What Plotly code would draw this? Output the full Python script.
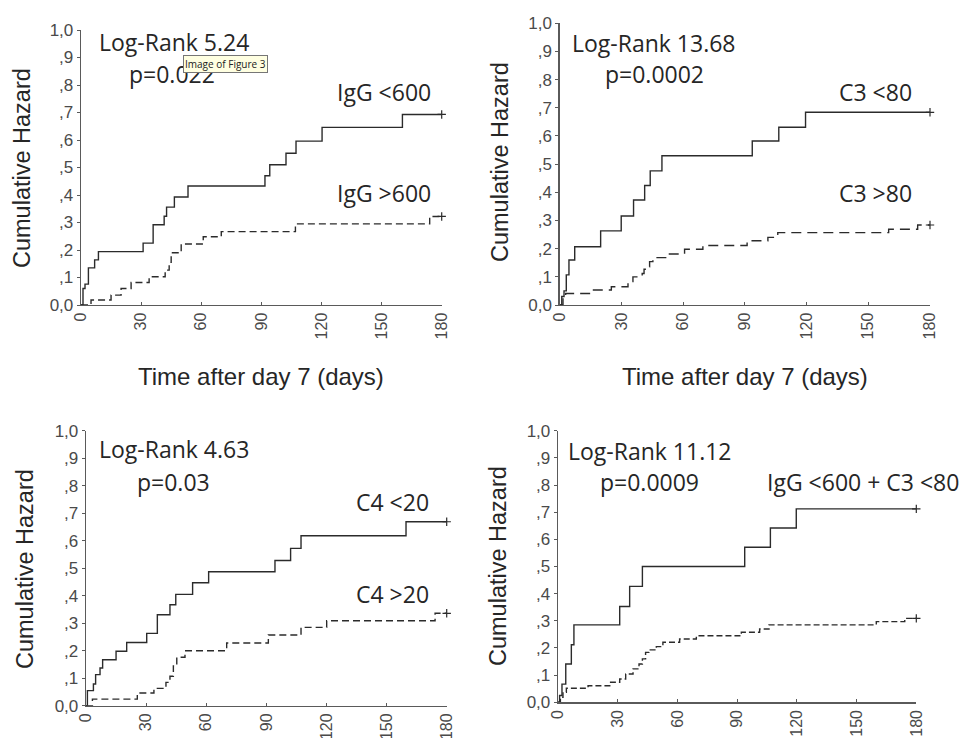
import plotly.graph_objects as go

# ---------------- data ----------------
follow_up_end = 180

x_ticks = [0, 30, 60, 90, 120, 150, 180]
y_ticks = [0, 0.1, 0.2, 0.3, 0.4, 0.5, 0.6, 0.7, 0.8, 0.9, 1.0]
y_tick_labels = ["0,0", ",1", ",2", ",3", ",4", ",5", ",6", ",7", ",8", ",9", "1,0"]

# Panel 1: IgG
p1_low_t = [0, 1, 2, 3.7, 6.8, 8.7, 31, 36, 41.5, 42.7, 46.6, 53.4, 91.8, 94.2, 102.3, 107.3, 120.3, 160.4]
p1_low_h = [0, 0.06, 0.076, 0.135, 0.164, 0.194, 0.225, 0.292, 0.323, 0.356, 0.393, 0.433, 0.47, 0.51, 0.552, 0.596, 0.646, 0.693]
p1_high_t = [0, 5, 15, 20, 25, 34, 42, 44, 45, 50, 61, 70, 107, 174]
p1_high_h = [0, 0.018, 0.036, 0.06, 0.082, 0.103, 0.127, 0.155, 0.19, 0.222, 0.248, 0.267, 0.295, 0.322]

# Panel 2: C3
p2_low_t = [0, 1, 2.1, 3.2, 4.5, 7.3, 19.9, 29.9, 35.9, 41.3, 44, 49.7, 93.6, 106.5, 119.5]
p2_low_h = [0, 0.03, 0.05, 0.107, 0.16, 0.207, 0.263, 0.316, 0.373, 0.424, 0.476, 0.53, 0.582, 0.631, 0.684]
p2_high_t = [0, 1.6, 2.9, 14.9, 25.1, 33.2, 35.6, 40.1, 41, 42.1, 43.7, 45.3, 52.3, 60.7, 69.6, 91.1, 101.2, 106, 159.9, 174]
p2_high_h = [0, 0.03, 0.041, 0.053, 0.065, 0.083, 0.1, 0.112, 0.127, 0.136, 0.154, 0.168, 0.181, 0.198, 0.211, 0.228, 0.24, 0.257, 0.269, 0.284]

# Panel 3: C4
p3_low_t = [0, 0.7, 3.7, 4.8, 7, 8.3, 15, 20.3, 30.3, 35.6, 41.9, 44.8, 53.2, 61.2, 94.3, 102.1, 107.3, 159.7]
p3_low_h = [0, 0.055, 0.079, 0.113, 0.137, 0.167, 0.198, 0.23, 0.263, 0.331, 0.367, 0.405, 0.447, 0.487, 0.528, 0.572, 0.618, 0.669]
p3_high_t = [0, 3.2, 25.6, 33.9, 39.9, 41.9, 43.6, 45.3, 49.4, 70.2, 91, 107.3, 120.1, 174.2]
p3_high_h = [0, 0.024, 0.046, 0.063, 0.085, 0.107, 0.145, 0.176, 0.2, 0.228, 0.257, 0.285, 0.309, 0.336]

# Panel 4: IgG + C3
p4_low_t = [0, 0.8, 2, 3.9, 6.7, 8, 31, 36, 42.4, 93.8, 106.7, 119.7]
p4_low_h = [0, 0.025, 0.067, 0.141, 0.212, 0.285, 0.353, 0.427, 0.5, 0.571, 0.642, 0.712]
p4_high_t = [0, 1.2, 2.5, 4.2, 15.1, 26, 31, 34, 37.7, 40.7, 42.4, 44, 45.7, 49.4, 52.7, 61.1, 69.5, 92.1, 101.3, 106, 159.9, 174.2]
p4_high_h = [0, 0.018, 0.037, 0.052, 0.061, 0.074, 0.086, 0.104, 0.123, 0.141, 0.16, 0.184, 0.193, 0.205, 0.221, 0.233, 0.245, 0.258, 0.27, 0.285, 0.297, 0.309]

log_rank_texts = ["Log-Rank 5.24", "Log-Rank 13.68", "Log-Rank 4.63", "Log-Rank 11.12"]
p_texts = ["p=0.022", "p=0.0002", "p=0.03", "p=0.0009"]
low_labels = ["IgG <600", "C3 <80", "C4 <20", "IgG <600 + C3 <80"]
high_labels = ["IgG >600", "C3 >80", "C4 >20", ""]
y_title = "Cumulative Hazard"
x_title = "Time after day 7 (days)"

# ---------------- layout / styling ----------------
W, H = 966, 738
LINE = "#2b2b2b"
AX = "#5a5a5a"
TXT = "#262626"
ARIAL = "Liberation Sans, Arial, sans-serif"
SEGOE = "Open Sans, sans-serif"

# pixel boxes of each plotting area: (left, right, top(y=1), bottom(y=0))
boxes = [
    (81, 441.7, 30, 305),
    (559.7, 930, 23.3, 305),
    (86, 446.7, 430.7, 705.7),
    (558, 916.3, 430.7, 702.3),
]
dashes = ["7px,4px", "10px,6px", "7px,4px", "6px,3px"]

series = [
    (p1_low_t, p1_low_h, p1_high_t, p1_high_h),
    (p2_low_t, p2_low_h, p2_high_t, p2_high_h),
    (p3_low_t, p3_low_h, p3_high_t, p3_high_h),
    (p4_low_t, p4_low_h, p4_high_t, p4_high_h),
]

# label positions in pixels: (logrank left x, y), (p centre x, y), (group label right x, y) x2
ann_px = [
    ((97, 42), (172, 74), (433, 92), (433, 193)),
    ((570, 43), (654, 74), (914, 92), (914, 193)),
    ((97, 449), (173, 482), (431, 502), (431, 594)),
    ((566, 451), (649, 482), (961, 482), None),
]
ytitle_px = [(22, 168), (500, 162), (25, 569), (498, 566)]
xtitle_px = [(261.4, 376), (744.9, 376)]


def P(px, py):
    return px / W, 1 - py / H


fig = go.Figure()
layout = dict(
    width=W, height=H, autosize=False,
    margin=dict(l=0, r=0, t=0, b=0, autoexpand=False),
    paper_bgcolor="white", plot_bgcolor="white",
    showlegend=False, template="none",
)
annotations = []


def add_text(text, pos, xanchor, size=23, family=SEGOE, angle=0):
    x, y = P(*pos)
    annotations.append(dict(text=text, x=x, y=y, xref="paper", yref="paper",
                            xanchor=xanchor, yanchor="middle", showarrow=False,
                            textangle=angle, font=dict(family=family, size=size, color=TXT)))


for i, (box, (lt, lh, ht, hh)) in enumerate(zip(boxes, series)):
    n = "" if i == 0 else str(i + 1)
    xa, ya = "x" + n, "y" + n
    left, right, top, bottom = box
    layout["xaxis" + n] = dict(
        domain=[left / W, right / W], anchor=ya, range=[0, follow_up_end],
        tickvals=x_ticks, tickangle=-90, ticks="inside", ticklen=3, tickcolor=AX,
        showline=True, linecolor=AX, linewidth=1.3, showgrid=False, zeroline=False,
        automargin=False,
        tickfont=dict(family=ARIAL, size=16, color="#4a4a4a"), fixedrange=True,
    )
    layout["yaxis" + n] = dict(
        domain=[1 - bottom / H, 1 - top / H], anchor=xa, range=[0, 1],
        tickvals=y_ticks, ticktext=y_tick_labels, ticks="outside", ticklen=3,
        tickcolor=AX, showline=True, linecolor=AX, linewidth=1.3, showgrid=False,
        zeroline=False, automargin=False,
        tickfont=dict(family=ARIAL, size=17, color="#4a4a4a"),
        fixedrange=True,
    )
    # high-risk group (solid) and low-risk group (dashed), step functions
    fig.add_trace(go.Scatter(
        x=list(lt) + [follow_up_end], y=list(lh) + [lh[-1]], mode="lines",
        line=dict(color=LINE, width=1.4, shape="hv"), xaxis=xa, yaxis=ya,
        cliponaxis=False, hoverinfo="skip"))
    fig.add_trace(go.Scatter(
        x=list(ht) + [follow_up_end], y=list(hh) + [hh[-1]], mode="lines",
        line=dict(color=LINE, width=1.4, shape="hv", dash=dashes[i]), xaxis=xa, yaxis=ya,
        cliponaxis=False, hoverinfo="skip"))
    # censoring marks at end of follow-up
    fig.add_trace(go.Scatter(
        x=[follow_up_end, follow_up_end], y=[lh[-1], hh[-1]], mode="markers",
        marker=dict(symbol="cross-thin", size=6, line=dict(color=LINE, width=1.2)),
        xaxis=xa, yaxis=ya, cliponaxis=False, hoverinfo="skip"))

    lr, pp, l1, l2 = ann_px[i]
    add_text(log_rank_texts[i], lr, "left")
    add_text(p_texts[i], pp, "center")
    add_text(low_labels[i], l1, "right")
    if high_labels[i] and l2 is not None:
        add_text(high_labels[i], l2, "right")
    add_text(y_title, ytitle_px[i], "center", size=23.5, family=ARIAL, angle=-90)

for pos in xtitle_px:
    add_text(x_title, pos, "center", size=24, family=ARIAL)

# browser tooltip overlay visible in the reference
tx, ty = P(225, 64)
annotations.append(dict(text="Image of Figure 3", x=tx, y=ty, xref="paper", yref="paper",
                        xanchor="center", yanchor="middle", showarrow=False,
                        bgcolor="#FFFFE1", bordercolor="#767676", borderwidth=1, borderpad=1,
                        font=dict(family=SEGOE, size=10, color="#222222")))

layout["annotations"] = annotations
fig.update_layout(**layout)
fig.write_html("out.html", config={"displayModeBar": False, "staticPlot": True},
               post_script="document.body.style.margin='0px';")
